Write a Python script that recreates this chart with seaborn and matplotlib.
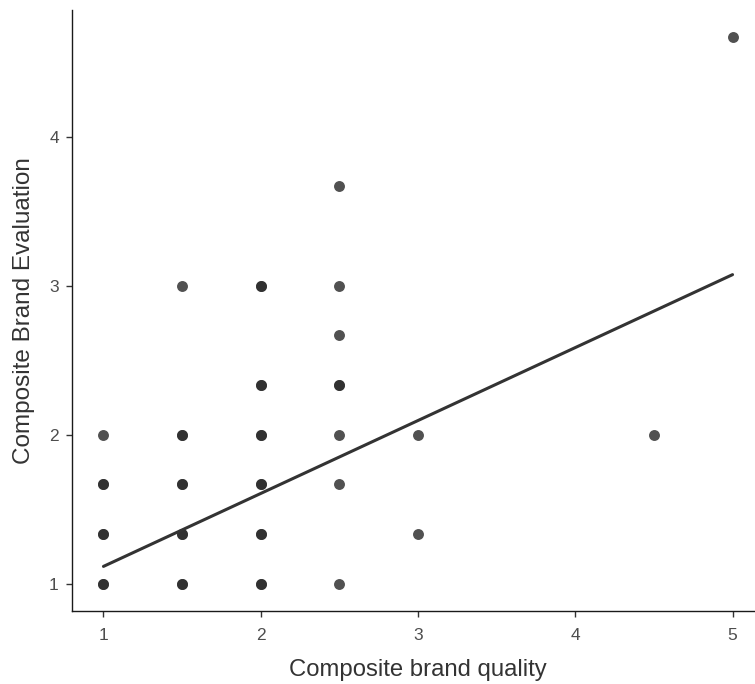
import matplotlib
matplotlib.use("Agg")
import matplotlib.pyplot as plt
import seaborn as sns
import pandas as pd

# Observed brand scores (repeated rows are respondents with identical scores)
quality = [1, 1, 1, 1, 1, 1, 1,
           1.5, 1.5, 1.5, 1.5, 1.5, 1.5, 1.5, 1.5, 1.5,
           2, 2, 2, 2, 2, 2, 2, 2, 2, 2, 2, 2,
           2.5, 2.5, 2.5, 2.5, 2.5, 2.5, 2.5, 2.5,
           3, 3, 4.5, 5]
evaluation = [1, 1, 4/3, 4/3, 5/3, 5/3, 2,
              1, 1, 4/3, 4/3, 5/3, 5/3, 2, 2, 3,
              1, 1, 4/3, 4/3, 5/3, 5/3, 2, 2, 7/3, 7/3, 3, 3,
              1, 5/3, 2, 7/3, 7/3, 8/3, 3, 11/3,
              4/3, 2, 2, 14/3]

# Least-squares fit line, evaluated at the ends of the quality range
fit_quality = [1, 5]
fit_evaluation = [1.116, 3.074]

x_ticks = [1, 2, 3, 4, 5]
y_ticks = [1, 2, 3, 4]

df = pd.DataFrame({"quality": quality, "evaluation": evaluation})
fit = pd.DataFrame({"quality": fit_quality, "evaluation": fit_evaluation})

sns.set_theme(style="ticks")
plt.rcParams["font.family"] = ["Liberation Sans", "DejaVu Sans"]

W, H = 755, 684
fig = plt.figure(figsize=(W / 100, H / 100), dpi=100)
ax = fig.add_axes([72 / W, 73 / H, 692 / W, 601 / H])

sns.scatterplot(data=df, x="quality", y="evaluation", ax=ax,
                color="#2b2b2b", alpha=0.82, s=62, linewidth=0)
sns.lineplot(data=fit, x="quality", y="evaluation", ax=ax,
             color="#333333", linewidth=2.2)

ax.set_xlim(0.8, 5.2)
ax.set_ylim(0.8167, 4.85)
ax.set_xticks(x_ticks)
ax.set_yticks(y_ticks)
ax.set_xticklabels([str(v) for v in x_ticks])
ax.set_yticklabels([str(v) for v in y_ticks])

for side in ("top", "right"):
    ax.spines[side].set_visible(False)
for side in ("left", "bottom"):
    ax.spines[side].set_color("#1a1a1a")
    ax.spines[side].set_linewidth(1.0)

ax.tick_params(axis="both", length=4, width=1, color="#333333",
               labelcolor="#4d4d4d", labelsize=12.5)
ax.tick_params(axis="x", pad=8)
ax.tick_params(axis="y", pad=5.5)

ax.set_xlabel("Composite brand quality", fontsize=17.2, color="#333333", labelpad=12)
ax.set_ylabel("Composite Brand Evaluation", fontsize=17.5, color="#333333", labelpad=10)

fig.savefig("out.png", dpi=100)
